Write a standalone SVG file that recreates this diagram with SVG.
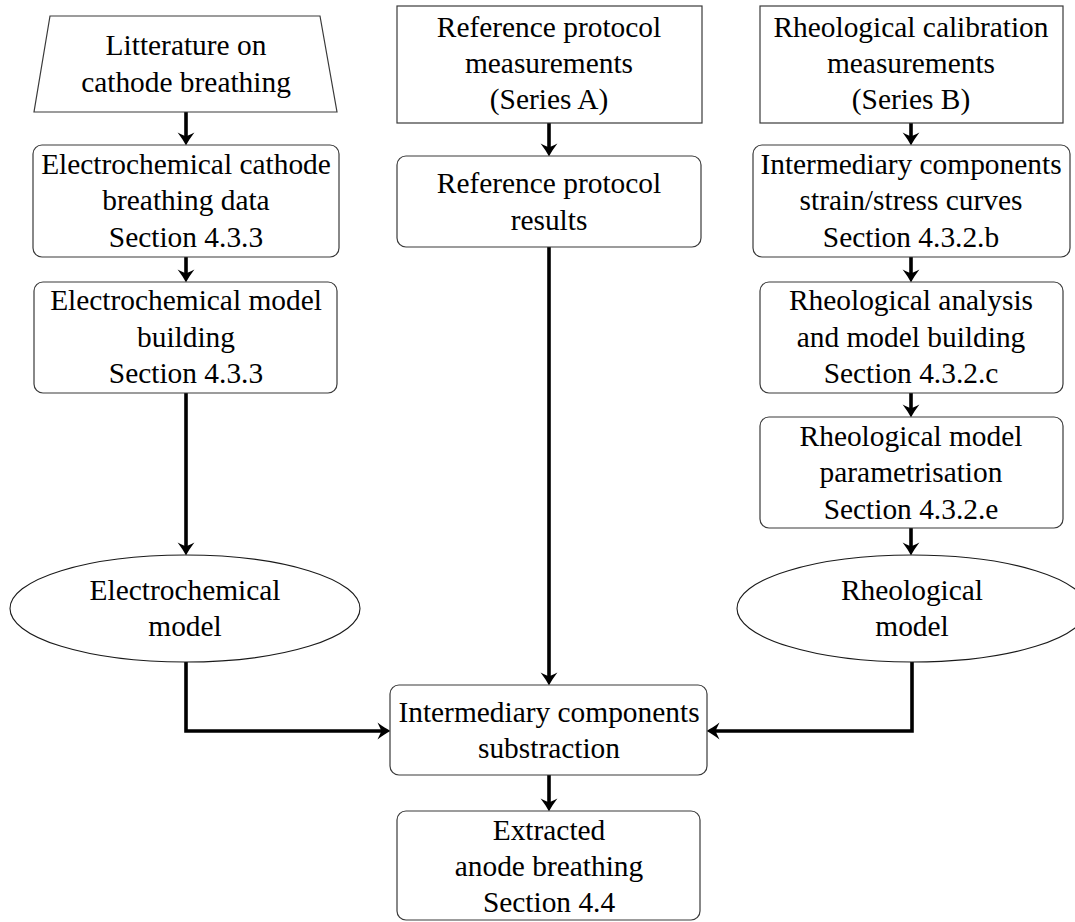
<svg xmlns="http://www.w3.org/2000/svg" width="1075" height="922" viewBox="0 0 1075 922">
  <style>
    .node { fill: #ffffff; stroke: #3a3a3a; stroke-width: 1.2; }
    .oval { fill: #ffffff; stroke: #1a1a1a; stroke-width: 1.1; }
    .label { font-family: "Liberation Serif", "Times New Roman", serif; font-size: 29.4px; fill: #000000; text-anchor: middle; }
    .wire { fill: none; stroke: #000000; stroke-width: 3.6; marker-end: url(#tip); }
  </style>
  <defs>
    <!-- curved barbed arrow tip, point at (0,0) -->
    <marker id="tip" markerUnits="userSpaceOnUse" viewBox="-16 -10 22 20" markerWidth="22" markerHeight="20" refX="-6" refY="0" orient="auto">
      <path d="M0.5,0 C-3,-1.8 -7.5,-4.6 -12.5,-8.4 C-10.4,-4 -9.2,-1.8 -8.8,0 C-9.2,1.8 -10.4,4 -12.5,8.4 C-7.5,4.6 -3,1.8 0.5,0 Z" fill="#000000"/>
    </marker>
  </defs>

  <rect width="1075" height="922" fill="#ffffff"/>

  <!-- connectors -->
  <g id="connectors">
    <line class="wire" x1="186" y1="112" x2="186" y2="139"/>
    <line class="wire" x1="186" y1="257" x2="186" y2="276"/>
    <line class="wire" x1="186" y1="393" x2="186" y2="549"/>
    <path class="wire" d="M186,662 V731 H384"/>
    <line class="wire" x1="549" y1="123" x2="549" y2="150"/>
    <line class="wire" x1="549" y1="247" x2="549" y2="679"/>
    <line class="wire" x1="549" y1="775" x2="549" y2="805"/>
    <line class="wire" x1="911" y1="123" x2="911" y2="139"/>
    <line class="wire" x1="911" y1="257" x2="911" y2="276"/>
    <line class="wire" x1="911" y1="393" x2="911" y2="411"/>
    <line class="wire" x1="911" y1="528" x2="911" y2="549"/>
    <path class="wire" d="M912,662 V731 H713"/>
  </g>

  <!-- left column -->
  <g id="literature">
    <polygon class="node" points="50,16 320,16 337,112 34,112"/>
    <text class="label" x="186" y="55">Litterature on</text>
    <text class="label" x="186" y="91.5">cathode breathing</text>
  </g>
  <g id="echem-data">
    <rect class="node" x="33" y="145" width="306" height="112" rx="9"/>
    <text class="label" x="186" y="173.5">Electrochemical cathode</text>
    <text class="label" x="186" y="210">breathing data</text>
    <text class="label" x="186" y="246.5">Section 4.3.3</text>
  </g>
  <g id="echem-building">
    <rect class="node" x="34" y="282" width="303" height="111" rx="9"/>
    <text class="label" x="186" y="310">Electrochemical model</text>
    <text class="label" x="186" y="346.5">building</text>
    <text class="label" x="186" y="383">Section 4.3.3</text>
  </g>
  <g id="echem-model">
    <ellipse class="oval" cx="185" cy="608.5" rx="175" ry="53.5"/>
    <text class="label" x="185" y="600">Electrochemical</text>
    <text class="label" x="185" y="636">model</text>
  </g>

  <!-- middle column -->
  <g id="series-a">
    <rect class="node" x="397" y="6" width="305" height="117"/>
    <text class="label" x="549" y="36.5">Reference protocol</text>
    <text class="label" x="549" y="73">measurements</text>
    <text class="label" x="549" y="108.5">(Series A)</text>
  </g>
  <g id="reference-results">
    <rect class="node" x="397" y="156" width="304" height="91" rx="9"/>
    <text class="label" x="549" y="193">Reference protocol</text>
    <text class="label" x="549" y="230">results</text>
  </g>
  <g id="substraction">
    <rect class="node" x="390" y="685" width="317" height="90" rx="9"/>
    <text class="label" x="549" y="721.5">Intermediary components</text>
    <text class="label" x="549" y="757.5">substraction</text>
  </g>
  <g id="anode-breathing">
    <rect class="node" x="397" y="811" width="303" height="109" rx="9"/>
    <text class="label" x="549" y="839.5">Extracted</text>
    <text class="label" x="549" y="876">anode breathing</text>
    <text class="label" x="549" y="911.5">Section 4.4</text>
  </g>

  <!-- right column -->
  <g id="series-b">
    <rect class="node" x="760" y="6" width="303" height="117"/>
    <text class="label" x="911" y="36.5">Rheological calibration</text>
    <text class="label" x="911" y="73">measurements</text>
    <text class="label" x="911" y="108.5">(Series B)</text>
  </g>
  <g id="strain-stress">
    <rect class="node" x="753" y="145" width="317" height="112" rx="9"/>
    <text class="label" x="911" y="173.5">Intermediary components</text>
    <text class="label" x="911" y="210">strain/stress curves</text>
    <text class="label" x="911" y="246.5">Section 4.3.2.b</text>
  </g>
  <g id="rheo-analysis">
    <rect class="node" x="760" y="282" width="303" height="111" rx="9"/>
    <text class="label" x="911" y="310">Rheological analysis</text>
    <text class="label" x="911" y="346.5">and model building</text>
    <text class="label" x="911" y="383">Section 4.3.2.c</text>
  </g>
  <g id="rheo-param">
    <rect class="node" x="760" y="417" width="303" height="111" rx="9"/>
    <text class="label" x="911" y="445.5">Rheological model</text>
    <text class="label" x="911" y="482">parametrisation</text>
    <text class="label" x="911" y="518.5">Section 4.3.2.e</text>
  </g>
  <g id="rheo-model">
    <ellipse class="oval" cx="912" cy="608.5" rx="175" ry="53.5"/>
    <text class="label" x="912" y="600">Rheological</text>
    <text class="label" x="912" y="636">model</text>
  </g>
</svg>
